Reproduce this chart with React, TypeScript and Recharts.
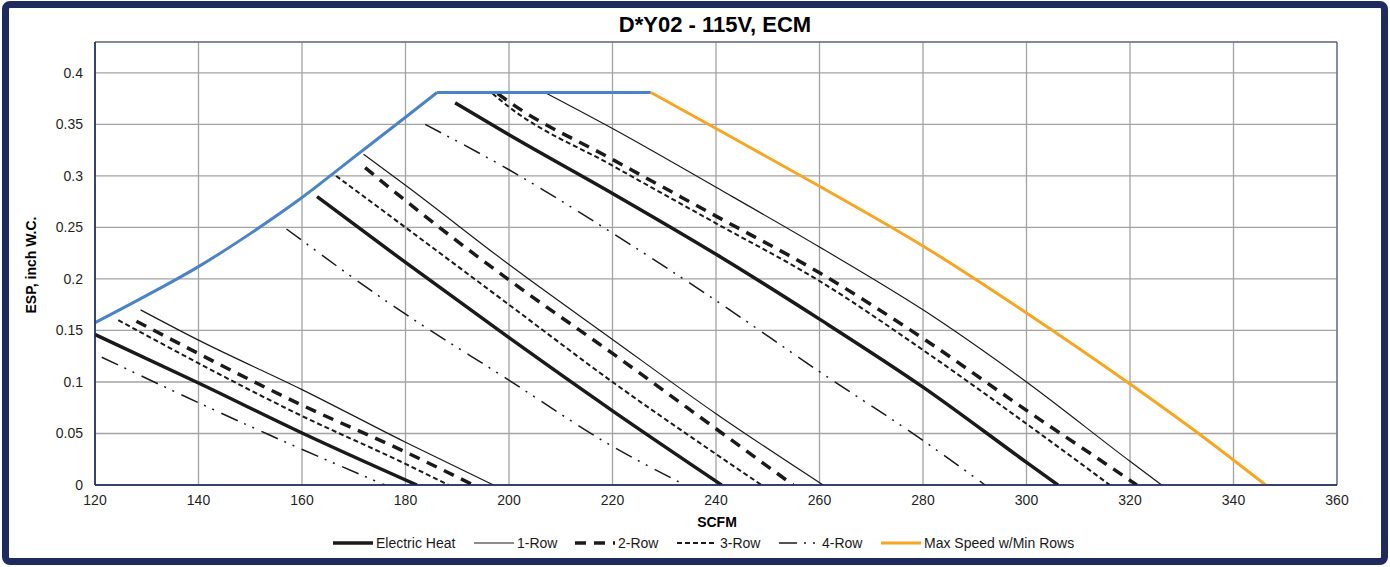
import { LineChart, Line, XAxis, YAxis, CartesianGrid, ReferenceArea } from 'recharts';

const xTicks = [120, 140, 160, 180, 200, 220, 240, 260, 280, 300, 320, 340, 360];
const yTicks = [0, 0.05, 0.1, 0.15, 0.2, 0.25, 0.3, 0.35, 0.4];

// [SCFM, ESP], low / mid / high speed taps
const electricHeatLow = [[120, 0.146], [140, 0.099], [160, 0.0505], [182.2, 0]];
const row1Low = [[128.8, 0.17], [140, 0.1406], [160, 0.0926], [180, 0.0415], [197, 0]];
const row2Low = [[128, 0.159], [160, 0.0775], [180, 0.032], [193.1, 0]];
const row3Low = [[124.5, 0.16], [160, 0.067], [180, 0.0205], [188.3, 0]];
const row4Low = [[121.3, 0.124], [153.2, 0.0497], [176, 0]];

const electricHeatMid = [[162.9, 0.28], [180, 0.216], [200, 0.143], [220, 0.072], [241.1, 0]];
const row1Mid = [[171.9, 0.321], [180, 0.291], [200, 0.214], [220, 0.1413], [240, 0.0692], [260.7, 0]];
const row2Mid = [[172.2, 0.308], [180, 0.276], [200, 0.199], [220, 0.1277], [240, 0.0546], [254.9, 0]];
const row3Mid = [[166.6, 0.3], [180, 0.25], [200, 0.175], [220, 0.1], [240, 0.03], [248.8, 0]];
const row4Mid = [[157, 0.2485], [177, 0.176], [199.6, 0.103], [220, 0.0375], [234, 0]];

const electricHeatHigh = [[189.6, 0.371], [200, 0.34], [220, 0.283], [240, 0.224], [260, 0.161], [280, 0.095], [300, 0.022], [306.1, 0]];
const row1High = [[207.3, 0.38], [220, 0.346], [240, 0.289], [260, 0.231], [280, 0.17], [300, 0.1], [320, 0.023], [326.1, 0]];
const row2High = [[197.8, 0.38], [200, 0.372], [220, 0.316], [240, 0.261], [260, 0.206], [280, 0.1423], [300, 0.0724], [320, 0.0045], [321.3, 0]];
const row3High = [[196.8, 0.38], [200, 0.367], [220, 0.31], [240, 0.254], [260, 0.198], [280, 0.131], [300, 0.0594], [316.1, 0]];
const row4High = [[183.8, 0.35], [200, 0.306], [220, 0.2445], [240, 0.179], [260, 0.11], [280, 0.0432], [292, 0]];

// limit curve (blue) and max speed curve (orange)
const limitRise = [[120, 0.1575], [130, 0.184], [140, 0.212], [150, 0.244], [160, 0.279], [170, 0.318], [180, 0.357], [186.1, 0.381]];
const limitFlat = [[186.1, 0.381], [227.4, 0.381]];
const maxSpeed = [[227.4, 0.381], [240, 0.346], [260, 0.29], [280, 0.232], [300, 0.167], [320, 0.098], [333.5, 0.049], [346.2, 0]];

const toPoints = (pts: number[][]) => pts.map(([x, y]) => ({ x, y }));

const INK = '#1a1a1a';
const BLUE = '#4a84c6';
const ORANGE = '#f6a623';
const NAVY = '#1f2a5e';

const STYLES: Record<string, { stroke: string; strokeWidth: number; strokeDasharray?: string }> = {
  electric: { stroke: INK, strokeWidth: 3.5 },
  row1: { stroke: INK, strokeWidth: 1.2 },
  row2: { stroke: INK, strokeWidth: 3.5, strokeDasharray: '11 8' },
  row3: { stroke: INK, strokeWidth: 2, strokeDasharray: '5 3' },
  row4: { stroke: INK, strokeWidth: 1.5, strokeDasharray: '18 7 2 7 2 8' },
  max: { stroke: ORANGE, strokeWidth: 3 },
};

const series = [
  { key: 'ehLow', data: electricHeatLow, style: 'electric' },
  { key: 'r1Low', data: row1Low, style: 'row1' },
  { key: 'r2Low', data: row2Low, style: 'row2' },
  { key: 'r3Low', data: row3Low, style: 'row3' },
  { key: 'r4Low', data: row4Low, style: 'row4' },
  { key: 'ehMid', data: electricHeatMid, style: 'electric' },
  { key: 'r1Mid', data: row1Mid, style: 'row1' },
  { key: 'r2Mid', data: row2Mid, style: 'row2' },
  { key: 'r3Mid', data: row3Mid, style: 'row3' },
  { key: 'r4Mid', data: row4Mid, style: 'row4' },
  { key: 'ehHigh', data: electricHeatHigh, style: 'electric' },
  { key: 'r1High', data: row1High, style: 'row1' },
  { key: 'r2High', data: row2High, style: 'row2' },
  { key: 'r3High', data: row3High, style: 'row3' },
  { key: 'r4High', data: row4High, style: 'row4' },
];

const legendItems = [
  { label: 'Electric Heat', style: 'electric', width: 141 },
  { label: '1-Row', style: 'row1', width: 101 },
  { label: '2-Row', style: 'row2', width: 102 },
  { label: '3-Row', style: 'row3', width: 102 },
  { label: '4-Row', style: 'row4', width: 102 },
  { label: 'Max Speed w/Min Rows', style: 'max', width: 200 },
];

const tickStyle = { fontFamily: "'Liberation Sans', Arial, sans-serif", fontSize: 14, fill: '#1f1f1f' };

export default function App() {
  return (
    <div style={{ position: 'absolute', left: 0, top: 0, width: 1390, height: 567, background: '#fff', overflow: 'hidden' }}>
      <div style={{ position: 'absolute', left: 0, top: 0 }}>
        <LineChart width={1390} height={567} margin={{ top: 42, right: 53, bottom: 52, left: 35 }}>
          <CartesianGrid stroke="#a3a3a3" strokeWidth={1.3} />
          <XAxis
            type="number"
            dataKey="x"
            domain={[120, 360]}
            ticks={xTicks}
            allowDataOverflow
            height={30}
            tickLine={false}
            tickSize={6}
            tickMargin={4}
            axisLine={{ stroke: NAVY, strokeWidth: 1.5 }}
            tick={tickStyle}
          />
          <YAxis
            type="number"
            dataKey="y"
            domain={[0, 0.43]}
            ticks={yTicks}
            allowDataOverflow
            width={60}
            tickLine={false}
            tickSize={6}
            tickMargin={6}
            axisLine={{ stroke: NAVY, strokeWidth: 1.5 }}
            tick={tickStyle}
            tickFormatter={(v: number) => String(v)}
          />
          <ReferenceArea x1={120} x2={360} y1={0} y2={0.43} fill="none" stroke="#4a5684" strokeWidth={1} />
          {series.map((s) => (
            <Line
              key={s.key}
              data={toPoints(s.data)}
              dataKey="y"
              type="monotone"
              dot={false}
              activeDot={false}
              isAnimationActive={false}
              {...STYLES[s.style]}
            />
          ))}
          <Line data={toPoints(limitRise)} dataKey="y" type="monotone" dot={false} activeDot={false} isAnimationActive={false} stroke={BLUE} strokeWidth={3} />
          <Line data={toPoints(limitFlat)} dataKey="y" type="linear" dot={false} activeDot={false} isAnimationActive={false} stroke={BLUE} strokeWidth={3} />
          <Line data={toPoints(maxSpeed)} dataKey="y" type="monotone" dot={false} activeDot={false} isAnimationActive={false} {...STYLES.max} />
        </LineChart>
      </div>

      <div style={{ position: 'absolute', left: 0, top: 12, width: 1430, textAlign: 'center', fontFamily: "'Liberation Sans', Arial, sans-serif", fontWeight: 'bold', fontSize: 22, color: '#000' }}>
        D*Y02 - 115V, ECM
      </div>
      <div style={{ position: 'absolute', left: 0, top: 514, width: 1434, textAlign: 'center', fontFamily: "'Liberation Sans', Arial, sans-serif", fontWeight: 'bold', fontSize: 14, color: '#000' }}>
        SCFM
      </div>
      <div style={{ position: 'absolute', left: 31, top: 265, transform: 'translate(-50%, -50%) rotate(-90deg)', whiteSpace: 'nowrap', fontFamily: "'Liberation Sans', Arial, sans-serif", fontWeight: 'bold', fontSize: 14, color: '#000' }}>
        ESP, inch W.C.
      </div>

      <div style={{ position: 'absolute', left: 333, top: 534, height: 18, display: 'flex', alignItems: 'center', fontFamily: "'Liberation Sans Narrow', 'Liberation Sans', Arial, sans-serif", fontSize: 14, color: '#1a1a1a' }}>
        {legendItems.map((item) => {
          const st = STYLES[item.style];
          return (
            <div key={item.label} style={{ display: 'flex', alignItems: 'center', width: item.width }}>
              <svg width={40} height={10} style={{ marginRight: 3 }}>
                <line x1={0} y1={5} x2={40} y2={5} stroke={st.stroke} strokeWidth={st.strokeWidth} strokeDasharray={st.strokeDasharray} />
              </svg>
              <span style={{ whiteSpace: 'nowrap' }}>{item.label}</span>
            </div>
          );
        })}
      </div>

      <div style={{ position: 'absolute', left: 2, top: 1, width: 1386, height: 564, boxSizing: 'border-box', border: `7px solid ${NAVY}`, borderRadius: 8, pointerEvents: 'none' }} />
    </div>
  );
}
